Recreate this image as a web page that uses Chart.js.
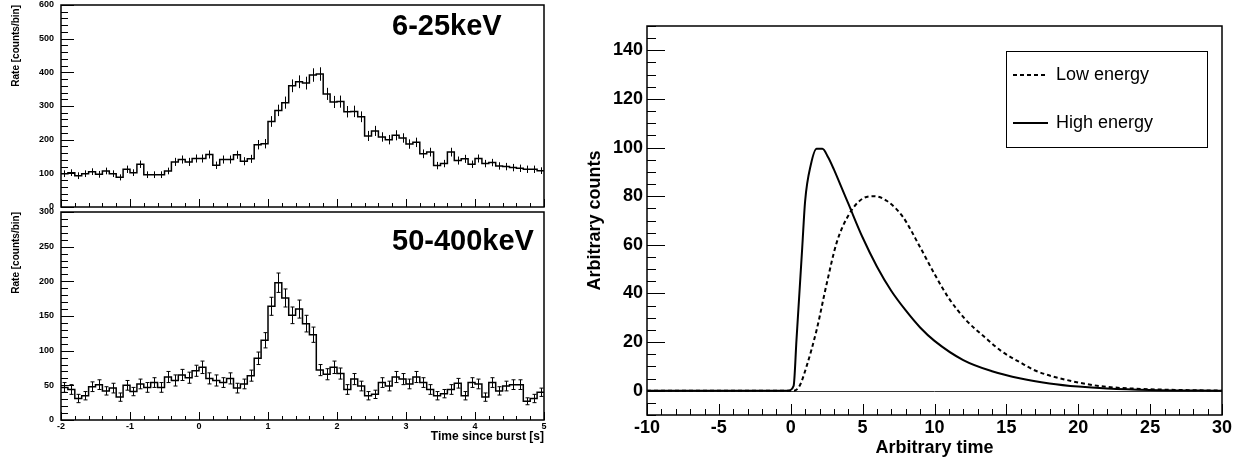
<!DOCTYPE html>
<html>
<head>
<meta charset="utf-8">
<script src="https://cdn.jsdelivr.net/npm/chart.js@4.4.1/dist/chart.umd.min.js"></script>
<style>
  html, body { margin: 0; padding: 0; background: #fff; }
  body { width: 1253px; height: 461px; position: relative; overflow: hidden; }
  .panel { position: absolute; }
</style>
</head>
<body>
<div class="panel" style="left:0;top:0"><canvas id="softChart" width="560" height="212"></canvas></div>
<div class="panel" style="left:0;top:200px"><canvas id="hardChart" width="560" height="261"></canvas></div>
<div class="panel" style="left:560px;top:0"><canvas id="modelChart" width="693" height="461"></canvas></div>
<script>
Chart.defaults.font.family = "'Liberation Sans', Arial, Helvetica, sans-serif";
Chart.defaults.color = "#000";

// -----------------------------
// Burst light curves (left edge of each 0.1 s bin)
// -----------------------------
const timeBins = [
  -2.0, -1.9, -1.8, -1.7, -1.6, -1.5, -1.4, -1.3, -1.2, -1.1,
  -1.0, -0.9, -0.8, -0.7, -0.6, -0.5, -0.4, -0.3, -0.2, -0.1,
  0.0, 0.1, 0.2, 0.3, 0.4, 0.5, 0.6, 0.7, 0.8, 0.9,
  1.0, 1.1, 1.2, 1.3, 1.4, 1.5, 1.6, 1.7, 1.8, 1.9,
  2.0, 2.1, 2.2, 2.3, 2.4, 2.5, 2.6, 2.7, 2.8, 2.9,
  3.0, 3.1, 3.2, 3.3, 3.4, 3.5, 3.6, 3.7, 3.8, 3.9,
  4.0, 4.1, 4.2, 4.3, 4.4, 4.5, 4.6, 4.7, 4.8, 4.9,
];
const binWidth = 0.1;

// 6-25 keV
const softRate = [
  99, 102, 93, 99, 105, 97, 107, 99, 88, 112,
  102, 127, 96, 96, 96, 107, 134, 141, 134, 144,
  144, 156, 124, 141, 141, 155, 136, 143, 185, 188,
  254, 287, 310, 360, 372, 368, 392, 395, 336, 312,
  313, 283, 284, 268, 211, 226, 208, 200, 213, 205,
  187, 192, 158, 163, 123, 129, 163, 138, 143, 127,
  144, 129, 132, 122, 120, 117, 115, 112, 112, 108,
];
const softErr = [
  10, 10, 10, 10, 10, 10, 10, 10, 9, 11,
  10, 11, 10, 10, 10, 10, 12, 12, 12, 12,
  12, 12, 11, 12, 12, 12, 12, 12, 14, 14,
  16, 17, 18, 19, 19, 19, 20, 20, 18, 18,
  18, 17, 17, 16, 15, 15, 14, 14, 15, 14,
  14, 14, 13, 13, 11, 11, 13, 12, 12, 11,
  12, 11, 11, 11, 11, 11, 11, 11, 11, 10,
];

// 50-400 keV
const hardRate = [
  47, 44, 31, 35, 48, 51, 42, 46, 33, 50,
  41, 52, 47, 54, 47, 62, 57, 65, 61, 71,
  76, 60, 57, 54, 60, 46, 52, 64, 89, 115,
  164, 198, 176, 151, 160, 139, 123, 72, 66, 76,
  67, 44, 59, 49, 35, 37, 54, 49, 62, 59,
  52, 62, 54, 44, 35, 38, 44, 53, 35, 54,
  52, 33, 54, 42, 49, 51, 51, 27, 31, 40,
];
const hardErr = [
  7, 7, 6, 6, 7, 7, 6, 7, 6, 7,
  6, 7, 7, 7, 7, 8, 8, 8, 8, 8,
  9, 8, 8, 7, 8, 7, 7, 8, 9, 11,
  13, 14, 13, 12, 13, 12, 11, 8, 8, 9,
  8, 7, 8, 7, 6, 6, 7, 7, 8, 8,
  7, 8, 7, 7, 6, 6, 7, 7, 6, 7,
  7, 6, 7, 6, 7, 7, 7, 5, 6, 6,
];

// -----------------------------
// Model pulses (right panel)
// -----------------------------
const lowTime = [-10, 0.2, 0.6, 1.1, 1.8, 2.5, 3.2, 4.1, 5.0, 5.8, 6.7, 7.8, 9.0, 10, 11, 12.2, 13.5, 14.6, 16, 17, 19.2, 21.5, 24, 27, 30];
const lowCounts = [0, 0, 1.8, 10, 25, 44, 61, 73, 79, 80, 78, 71.5, 59, 48, 38, 29, 22, 16.5, 11.5, 8.3, 4.4, 1.9, 0.8, 0.3, 0];
const highTime = [-10, -0.2, 0.2, 0.4, 0.6, 0.8, 1.0, 1.4, 1.8, 2.2, 2.6, 3.0, 3.5, 4.0, 5.0, 6.0, 7.0, 8.0, 9.0, 10, 12, 14, 16, 18, 20, 22, 25, 30];
const highCounts = [0, 0, 2, 21, 40, 59, 78, 93, 99.5, 99.5, 96, 91, 84, 77, 63, 51, 41, 33, 26, 20.5, 12.6, 8, 5, 3, 1.7, 0.9, 0.3, 0];

// tick labels
const burstXTicks = [-2, -1, 0, 1, 2, 3, 4, 5];
const softYTicks = [0, 100, 200, 300, 400, 500, 600];
const hardYTicks = [0, 50, 100, 150, 200, 250, 300];
const modelXTicks = [-10, -5, 0, 5, 10, 15, 20, 25, 30];
const modelYTicks = [0, 20, 40, 60, 80, 100, 120, 140];

// -----------------------------
// Plugins
// -----------------------------
// ROOT-like frame with inward ticks
const rootFrame = {
  id: "rootFrame",
  afterDraw(chart, args, o) {
    const { ctx, chartArea: a, scales: { x, y } } = chart;
    ctx.save();
    ctx.strokeStyle = "#000";
    ctx.lineWidth = 1;
    ctx.beginPath();
    const nx = Math.round((x.max - x.min) / o.xMinor);
    for (let k = 0; k <= nx; k++) {
      const v = x.min + k * o.xMinor;
      const r = v / o.xMajor;
      const len = Math.abs(r - Math.round(r)) < 1e-6 ? o.xLen[0] : o.xLen[1];
      const px = Math.round(x.getPixelForValue(v)) + 0.5;
      ctx.moveTo(px, a.bottom);
      ctx.lineTo(px, a.bottom - len);
    }
    const ny = Math.round((y.max - y.min) / o.yMinor);
    for (let k = 0; k <= ny; k++) {
      const v = y.min + k * o.yMinor;
      const r = v / o.yMajor;
      const len = Math.abs(r - Math.round(r)) < 1e-6 ? o.yLen[0] : o.yLen[1];
      const py = Math.round(y.getPixelForValue(v)) + 0.5;
      ctx.moveTo(a.left, py);
      ctx.lineTo(a.left + len, py);
    }
    ctx.stroke();
    ctx.lineWidth = o.frameWidth || 1.5;
    ctx.strokeRect(a.left, a.top, a.right - a.left, a.bottom - a.top);
    ctx.restore();
  },
};

// vertical error bars at bin centres
const errorBars = {
  id: "errorBars",
  afterDatasetsDraw(chart, args, o) {
    const { ctx, chartArea: a, scales: { x, y } } = chart;
    ctx.save();
    ctx.beginPath();
    ctx.rect(a.left, a.top, a.right - a.left, a.bottom - a.top);
    ctx.clip();
    ctx.strokeStyle = "#000";
    ctx.lineWidth = 1;
    ctx.beginPath();
    o.values.forEach((v, i) => {
      const px = Math.round(x.getPixelForValue(timeBins[i] + binWidth / 2)) + 0.5;
      const top = y.getPixelForValue(v + o.errors[i]);
      const bot = y.getPixelForValue(v - o.errors[i]);
      ctx.moveTo(px, top);
      ctx.lineTo(px, bot);
      if (o.cap) {
        ctx.moveTo(px - o.cap, top); ctx.lineTo(px + o.cap, top);
        ctx.moveTo(px - o.cap, bot); ctx.lineTo(px + o.cap, bot);
      }
    });
    ctx.stroke();
    ctx.restore();
  },
};

// energy band label in the corner
const bandLabel = {
  id: "bandLabel",
  afterDraw(chart, args, o) {
    const { ctx } = chart;
    ctx.save();
    ctx.font = "bold 29px 'Liberation Sans', Arial, sans-serif";
    ctx.fillStyle = "#000";
    ctx.textAlign = "left";
    ctx.textBaseline = "alphabetic";
    ctx.fillText(o.text, o.x, o.y);
    ctx.restore();
  },
};

// boxed legend (ROOT TLegend style)
const boxLegend = {
  id: "boxLegend",
  afterDraw(chart, args, o) {
    const { ctx } = chart;
    ctx.save();
    ctx.fillStyle = "#fff";
    ctx.fillRect(o.x, o.y, o.w, o.h);
    ctx.strokeStyle = "#000";
    ctx.lineWidth = 1;
    ctx.strokeRect(o.x + 0.5, o.y + 0.5, o.w, o.h);
    ctx.font = "18px 'Liberation Sans', Arial, sans-serif";
    ctx.textBaseline = "middle";
    ctx.fillStyle = "#000";
    chart.data.datasets.forEach((ds, i) => {
      const ly = o.y + o.rowTop + i * o.rowGap;
      ctx.setLineDash(ds.borderDash || []);
      ctx.lineWidth = ds.borderWidth;
      ctx.beginPath();
      ctx.moveTo(o.x + 7, ly);
      ctx.lineTo(o.x + 42, ly);
      ctx.stroke();
      ctx.setLineDash([]);
      ctx.fillText(ds.label, o.x + 50, ly);
    });
    ctx.restore();
  },
};

// thin line at zero counts
const zeroLine = {
  id: "zeroLine",
  beforeDatasetsDraw(chart) {
    const { ctx, chartArea: a, scales: { y } } = chart;
    const py = Math.round(y.getPixelForValue(0)) + 0.5;
    ctx.save();
    ctx.strokeStyle = "#333";
    ctx.lineWidth = 1;
    ctx.beginPath();
    ctx.moveTo(a.left, py);
    ctx.lineTo(a.right, py);
    ctx.stroke();
    ctx.restore();
  },
};

// -----------------------------
// Helpers
// -----------------------------
function histPoints(rates) {
  const pts = timeBins.map((t, i) => ({ x: t, y: rates[i] }));
  pts.push({ x: timeBins[timeBins.length - 1] + binWidth, y: rates[rates.length - 1] });
  return pts;
}

function fixedTicks(list) {
  return (scale) => { scale.ticks = list.map((v) => ({ value: v })); };
}

// fixed axis size, and no extra room reserved for edge labels
function fixWidth(w) {
  return (s) => { s.width = w; s.paddingTop = 0; s.paddingBottom = 0; };
}
function fixHeight(h) {
  return (s) => { s.height = h; s.paddingLeft = 0; s.paddingRight = 0; };
}

const boldSmall = { size: 9, weight: "bold" };

function burstChart(id, rates, errors, yMax, yTicks, opts) {
  return new Chart(document.getElementById(id), {
    type: "line",
    data: {
      datasets: [
        {
          data: histPoints(rates),
          stepped: "before",
          borderColor: "#000",
          borderWidth: 1.5,
          pointRadius: 0,
          fill: false,
        },
      ],
    },
    plugins: [errorBars, rootFrame, bandLabel],
    options: {
      responsive: false,
      animation: false,
      events: [],
      layout: { padding: { left: 0, top: opts.padTop, right: 16, bottom: 0 } },
      plugins: {
        legend: { display: false },
        tooltip: { enabled: false },
        errorBars: { values: rates, errors: errors, cap: opts.cap },
        rootFrame: {
          xMinor: 0.2, xMajor: 1, xLen: [8, 4],
          yMinor: opts.yMinor, yMajor: opts.yMajor, yLen: [13, 7],
          frameWidth: 1.5,
        },
        bandLabel: { text: opts.label, x: 392, y: opts.labelY },
      },
      scales: {
        x: {
          type: "linear",
          min: -2,
          max: 5,
          afterBuildTicks: fixedTicks(burstXTicks),
          afterFit: fixHeight(opts.xHeight),
          grid: { display: false, drawTicks: false },
          border: { display: false },
          ticks: { display: opts.showX, font: boldSmall, padding: 1, maxRotation: 0, autoSkip: false },
          title: {
            display: opts.showX,
            text: "Time since burst [s]",
            align: "end",
            font: { size: 12, weight: "bold" },
            padding: { top: 0, bottom: 17 },
          },
        },
        y: {
          min: 0,
          max: yMax,
          afterBuildTicks: fixedTicks(yTicks),
          afterFit: fixWidth(61),
          grid: { display: false, drawTicks: false },
          border: { display: false },
          ticks: { font: boldSmall, padding: 7, autoSkip: false },
          title: {
            display: true,
            text: "Rate [counts/bin]",
            align: "end",
            font: { size: 10, weight: "bold" },
            padding: { top: 10, bottom: 0 },
          },
        },
      },
    },
  });
}

// -----------------------------
// Build charts
// -----------------------------
burstChart("softChart", softRate, softErr, 600, softYTicks, {
  padTop: 5, xHeight: 5, showX: false, yMinor: 20, yMajor: 100,
  label: "6-25keV", labelY: 35, cap: 0,
});

burstChart("hardChart", hardRate, hardErr, 300, hardYTicks, {
  padTop: 12, xHeight: 41, showX: true, yMinor: 10, yMajor: 50,
  label: "50-400keV", labelY: 50, cap: 2,
});

new Chart(document.getElementById("modelChart"), {
  type: "line",
  data: {
    datasets: [
      {
        label: "Low energy",
        data: lowTime.map((t, i) => ({ x: t, y: lowCounts[i] })),
        borderColor: "#000",
        borderWidth: 2,
        borderDash: [4, 3],
        pointRadius: 0,
        cubicInterpolationMode: "monotone",
        fill: false,
      },
      {
        label: "High energy",
        data: highTime.map((t, i) => ({ x: t, y: highCounts[i] })),
        borderColor: "#000",
        borderWidth: 2,
        pointRadius: 0,
        cubicInterpolationMode: "monotone",
        fill: false,
      },
    ],
  },
  plugins: [zeroLine, rootFrame, boxLegend],
  options: {
    responsive: false,
    animation: false,
    events: [],
    layout: { padding: { left: 0, top: 26, right: 31, bottom: 0 } },
    plugins: {
      legend: { display: false },
      tooltip: { enabled: false },
      rootFrame: {
        xMinor: 1, xMajor: 5, xLen: [11, 6],
        yMinor: 5, yMajor: 20, yLen: [18, 9],
        frameWidth: 1.5,
      },
      boxLegend: { x: 446, y: 51, w: 201, h: 96, rowTop: 24, rowGap: 48 },
    },
    scales: {
      x: {
        type: "linear",
        min: -10,
        max: 30,
        afterBuildTicks: fixedTicks(modelXTicks),
        afterFit: fixHeight(46),
        grid: { display: false, drawTicks: false },
        border: { display: false },
        ticks: { font: { size: 18, weight: "bold" }, padding: 2, maxRotation: 0, autoSkip: false },
        title: {
          display: true,
          text: "Arbitrary time",
          font: { size: 18, weight: "bold" },
          padding: { top: 0, bottom: 2 },
        },
      },
      y: {
        min: -10,
        max: 150,
        afterBuildTicks: fixedTicks(modelYTicks),
        afterFit: fixWidth(87),
        grid: { display: false, drawTicks: false },
        border: { display: false },
        ticks: { font: { size: 18, weight: "bold" }, padding: 4, autoSkip: false },
        title: {
          display: true,
          text: "Arbitrary counts",
          font: { size: 18, weight: "bold" },
          padding: { top: 24, bottom: 0 },
        },
      },
    },
  },
});
</script>
</body>
</html>
